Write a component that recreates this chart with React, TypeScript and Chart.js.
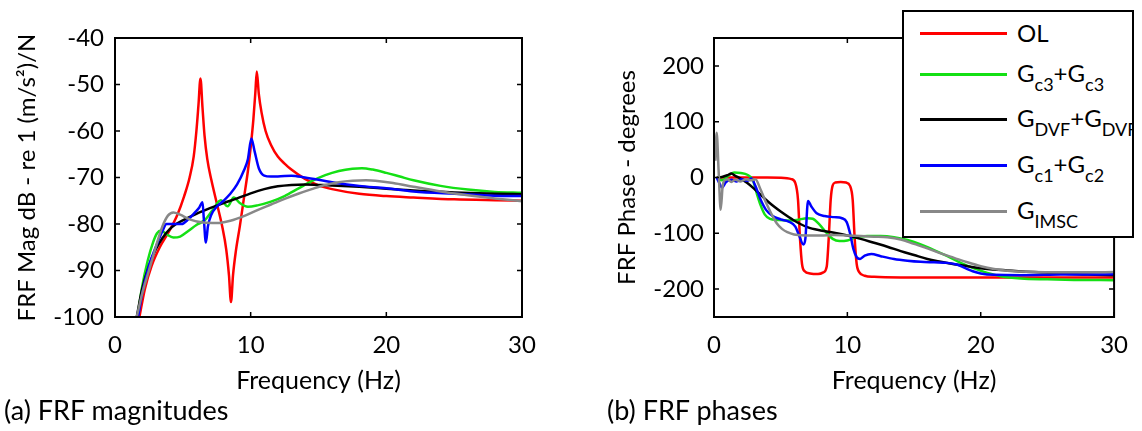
import React, { useEffect, useRef } from 'react';
import { Chart, registerables } from 'chart.js';

Chart.register(...registerables);

// ---------- DATA ----------
const xTicks = [0, 10, 20, 30];
const magTicks = [-100, -90, -80, -70, -60, -50, -40];
const phaseTicks = [-200, -100, 0, 100, 200];

const seriesNames = ['OL', 'Gc3+Gc3', 'GDVF+GDVF', 'Gc1+Gc2', 'GIMSC'];
const seriesLabelParts: [string, string][][] = [
  [['OL', '']],
  [['G', 'c3'], ['+G', 'c3']],
  [['G', 'DVF'], ['+G', 'DVF']],
  [['G', 'c1'], ['+G', 'c2']],
  [['G', 'IMSC']],
];

// (a) magnitudes, dB
const magOLFreq = [1.8, 2.2, 2.7, 3.3, 4.0, 4.6, 5.1, 5.5, 5.8, 6.0, 6.15, 6.3, 6.45, 6.6, 6.8, 7.1, 7.5, 7.9, 8.2, 8.4, 8.55, 8.7, 8.9, 9.2, 9.5, 9.8, 10.0, 10.2, 10.35, 10.45, 10.6, 10.8, 11.1, 11.5, 12, 12.5, 13, 14, 15, 16, 18, 20, 22, 25, 28, 30];
const magOL = [-100, -94, -89, -85, -81.5, -78, -74, -70, -65.5, -60, -54.5, -48.7, -55, -61, -66, -70.5, -75.5, -80.5, -85.5, -91, -96.8, -91, -86, -80.5, -74.5, -68.5, -63.5, -57.5, -51.5, -47.2, -52, -56, -60, -63, -65.5, -67, -68.3, -70.3, -71.7, -72.5, -73.5, -74, -74.3, -74.7, -74.9, -75];

const magGc3Freq = [1.65, 2.0, 2.4, 2.8, 3.1, 3.4, 3.8, 4.3, 4.8, 5.4, 6.0, 6.6, 7.2, 7.8, 8.3, 8.75, 9.2, 9.8, 10.5, 11.5, 12.5, 13.5, 14.5, 15.5, 16.5, 17.5, 18.2, 19, 20, 21, 22, 24, 26, 28, 30];
const magGc3 = [-100, -93.5, -88, -84, -82, -81.4, -82.2, -82.9, -82.7, -81.5, -80.2, -79.2, -77, -74.9, -76.2, -74.3, -75.5, -76.3, -76, -75.2, -74, -72.4, -70.8, -69.5, -68.6, -68.1, -68, -68.3, -69, -69.8, -70.6, -71.8, -72.6, -73.1, -73.3];

const magDVFFreq = [1.6, 2.0, 2.5, 3.0, 3.5, 4.0, 4.5, 5.0, 6.0, 7.0, 8.0, 9.0, 10.0, 11.0, 12.0, 13.0, 14.0, 15, 16, 18, 20, 22, 25, 28, 30];
const magDVF = [-100, -94, -89, -85.5, -83, -81.2, -80, -79.2, -77.8, -76.6, -75.5, -74.5, -73.4, -72.5, -71.9, -71.6, -71.5, -71.6, -71.7, -72, -72.4, -72.8, -73.2, -73.5, -73.6];

const magGc12Freq = [1.7, 2.0, 2.5, 3.0, 3.5, 3.8, 4.3, 4.9, 5.4, 5.9, 6.2, 6.45, 6.55, 6.7, 6.85, 7.1, 7.5, 8.0, 8.5, 9.0, 9.5, 9.8, 10.05, 10.3, 10.6, 11.0, 11.5, 12, 13, 14, 16, 18, 20, 22, 25, 28, 30];
const magGc12 = [-100, -95, -89, -85, -81.5, -80, -80, -80, -79, -77.5, -76.5, -75.3, -79, -84, -80.5, -78, -76.3, -75, -73.5, -71.5, -68.5, -66, -61.6, -64.5, -68, -69.6, -69.8, -69.8, -69.6, -70, -71, -71.8, -72.3, -73, -73.5, -73.9, -74];

const magIMSCFreq = [1.6, 2.0, 2.5, 3.0, 3.5, 3.9, 4.3, 4.8, 5.5, 6.5, 7.5, 8.5, 9.5, 10.5, 11.5, 12.5, 13.5, 14.5, 15.5, 16.5, 17.5, 18.5, 19.5, 20.5, 22, 24, 26, 28, 30];
const magIMSC = [-100, -95, -90, -85, -80.5, -78.2, -77.5, -78, -79, -79.7, -79.8, -79.3, -78.3, -77, -75.8, -74.6, -73.5, -72.5, -71.6, -71, -70.7, -70.6, -70.8, -71.2, -72, -73, -73.8, -74.5, -75.1];

// (b) phases, degrees
const phOLFreq = [0.3, 1, 2, 3, 4, 5, 5.8, 6.1, 6.3, 6.45, 6.6, 6.8, 7.2, 7.8, 8.2, 8.45, 8.6, 8.75, 8.9, 9.1, 9.5, 9.9, 10.2, 10.4, 10.55, 10.7, 10.9, 11.3, 12, 14, 17, 20, 25, 30];
const phOL = [0, 0, 0, 0, 0, -0.5, -3, -10, -40, -110, -155, -168, -172, -173, -170, -160, -110, -40, -14, -9, -8, -9, -15, -40, -110, -155, -170, -176, -178, -179, -179, -179, -179, -179];

const phGc3Freq = [0.2, 0.6, 1.0, 1.5, 2.0, 2.5, 2.9, 3.2, 3.5, 3.8, 4.2, 4.8, 5.5, 6.2, 7.0, 7.4, 7.9, 8.4, 8.9, 9.4, 10.0, 10.5, 11.5, 12.5, 13.5, 14.5, 15.5, 16.5, 17.5, 18.5, 19.5, 20.5, 21.5, 23, 25, 27, 30];
const phGc3 = [0, -5, 2, 9, 8, 5, -4, -28, -50, -66, -74, -76, -77, -76, -73, -74, -84, -98, -110, -114, -113, -108, -105, -105, -107, -112, -120, -130, -141, -153, -163, -171, -177, -181, -182.5, -183.5, -184];

const phDVFFreq = [0.2, 0.6, 1.0, 1.3, 1.6, 2.0, 2.5, 3.0, 3.5, 4.0, 4.5, 5.0, 6.0, 7.0, 8.0, 9.0, 10.0, 11.0, 12.0, 13.0, 14.0, 15.0, 16.0, 17.0, 18.0, 19.0, 20.0, 22.0, 24.0, 26.0, 28.0, 30.0];
const phDVF = [0, 1, 4, 7, 3, -2, -10, -20, -31, -42, -52, -61, -77, -89, -95, -99, -104, -110, -117, -124, -132, -139, -146, -151, -155.5, -159, -162.5, -166.5, -169.5, -172, -174, -175];

const phGc12Freq = [0.2, 0.4, 0.6, 0.9, 1.3, 1.7, 2.1, 2.5, 2.8, 3.1, 3.5, 3.9, 4.4, 5.0, 5.6, 6.1, 6.4, 6.7, 6.85, 7.05, 7.3, 7.7, 8.3, 9.0, 9.6, 9.95, 10.2, 10.45, 10.7, 10.95, 11.3, 11.8, 12.5, 13.5, 14.5, 15.5, 16.5, 17.5, 18.2, 18.8, 19.4, 20, 21, 23, 26, 30];
const phGc12 = [0, -10, -18, -8, -4, -7, -3, -6, -2, -15, -40, -58, -69, -75, -79, -88, -105, -120, -110, -42, -52, -64, -69, -71, -73, -80, -100, -128, -143, -146, -140, -137, -141, -146, -149, -151, -152, -153, -156, -162, -168, -172, -174.5, -175, -174, -173.5];

const phIMSCFreq = [0.1, 0.2, 0.35, 0.5, 0.65, 0.8, 1.0, 1.3, 1.6, 2.0, 2.4, 2.8, 3.1, 3.5, 3.9, 4.3, 4.7, 5.1, 5.5, 6.0, 7.0, 8.0, 9.0, 10.0, 11.0, 12.0, 13.0, 14.0, 15.0, 16.0, 17.0, 18.0, 19.0, 20.0, 21.0, 22.0, 24.0, 26.0, 28.0, 30.0];
const phIMSC = [30, 80, 10, -58, -15, -5, -3, -8, -4, -7, -3, -5, -3, -22, -45, -65, -82, -92, -98, -102, -104, -104, -103, -104, -105, -106, -107, -111, -119, -127, -136, -144, -152, -159, -164, -167, -169.5, -170, -170, -169.5];

const magSeries = [[magOLFreq, magOL], [magGc3Freq, magGc3], [magDVFFreq, magDVF], [magGc12Freq, magGc12], [magIMSCFreq, magIMSC]];
const phaseSeries = [[phOLFreq, phOL], [phGc3Freq, phGc3], [phDVFFreq, phDVF], [phGc12Freq, phGc12], [phIMSCFreq, phIMSC]];

// ---------- STYLE ----------
const COLORS = ['#ff0000', '#14e014', '#000000', '#0000ff', '#888888'];
const FONT = 'Lato, "Open Sans", sans-serif';

const framePlugin = {
  id: 'matlabFrame',
  afterDatasetsDraw(chart: any) {
    const { ctx, chartArea: a, scales } = chart;
    ctx.save();
    ctx.strokeStyle = '#000';
    ctx.lineWidth = 2;
    ctx.strokeRect(a.left, a.top, a.right - a.left, a.bottom - a.top);
    ctx.lineWidth = 1.5;
    const L = 5;
    ctx.beginPath();
    scales.x.ticks.forEach((t: any) => {
      const p = scales.x.getPixelForValue(t.value);
      ctx.moveTo(p, a.bottom); ctx.lineTo(p, a.bottom - L);
      ctx.moveTo(p, a.top); ctx.lineTo(p, a.top + L);
    });
    scales.y.ticks.forEach((t: any) => {
      const p = scales.y.getPixelForValue(t.value);
      ctx.moveTo(a.left, p); ctx.lineTo(a.left + L, p);
      ctx.moveTo(a.right, p); ctx.lineTo(a.right - L, p);
    });
    ctx.stroke();
    ctx.restore();
  },
};

function makeConfig(p: {
  series: number[][][]; yMin: number; yMax: number; yTicks: number[]; yTitle: string;
  yWidth: number; rightPad: number; yTitlePad: number; yTickPad: number;
}) {
  const datasets = p.series.map(([f, v], i) => ({
    label: seriesNames[i],
    data: f.map((x, j) => ({ x, y: v[j] })),
    borderColor: COLORS[i],
    backgroundColor: COLORS[i],
    borderWidth: 2.5,
    pointRadius: 0,
    fill: false,
    cubicInterpolationMode: 'monotone' as const,
    order: 5 - i,
  }));
  return {
    type: 'line' as const,
    data: { datasets },
    plugins: [framePlugin],
    options: {
      responsive: false,
      animation: false as const,
      layout: { padding: { top: 38, right: p.rightPad, bottom: 0, left: 0 } },
      plugins: { legend: { display: false }, tooltip: { enabled: false } },
      scales: {
        x: {
          type: 'linear' as const,
          min: 0, max: 30,
          grid: { display: false, drawTicks: false },
          border: { display: false },
          afterBuildTicks: (s: any) => { s.ticks = xTicks.map((value) => ({ value })); },
          afterFit: (s: any) => { s.height = 114; },
          ticks: { padding: 14, color: '#000', font: { family: FONT, size: 24 }, maxRotation: 0, autoSkip: false },
          title: { display: true, text: 'Frequency (Hz)', color: '#000', font: { family: FONT, size: 25 }, padding: { top: 0, bottom: 35 } },
        },
        y: {
          type: 'linear' as const,
          min: p.yMin, max: p.yMax,
          grid: { display: false, drawTicks: false },
          border: { display: false },
          afterBuildTicks: (s: any) => { s.ticks = p.yTicks.map((value) => ({ value })); },
          afterFit: (s: any) => { s.width = p.yWidth; },
          ticks: { padding: p.yTickPad, color: '#000', font: { family: FONT, size: 24 }, autoSkip: false },
          title: { display: true, text: p.yTitle, color: '#000', font: { family: FONT, size: 24 }, padding: { top: p.yTitlePad, bottom: 0 } },
        },
      },
    },
  };
}

function ChartCanvas({ config, left }: { config: any; left: number }) {
  const ref = useRef<HTMLCanvasElement | null>(null);
  useEffect(() => {
    if (!ref.current) return;
    const chart = new Chart(ref.current, config);
    return () => chart.destroy();
  }, []);
  return <canvas ref={ref} width={571} height={431} style={{ position: 'absolute', left, top: 0, width: 571, height: 431 }} />;
}

const legendRowY = [21, 62, 107, 153, 199];

export default function App() {
  const magConfig = makeConfig({
    series: magSeries, yMin: -100, yMax: -40, yTicks: magTicks,
    yTitle: 'FRF Mag dB - re 1 (m/s²)/N', yWidth: 115, rightPad: 49, yTitlePad: 13, yTickPad: 11,
  });
  const phaseConfig = makeConfig({
    series: phaseSeries, yMin: -250, yMax: 250, yTicks: phaseTicks,
    yTitle: 'FRF Phase - degrees', yWidth: 143, rightPad: 19, yTitlePad: 42, yTickPad: 10,
  });
  return (
    <div style={{ position: 'fixed', left: 0, top: 0, width: 1142, height: 431, background: '#fff', overflow: 'hidden', fontFamily: FONT, color: '#000' }}>
      <ChartCanvas config={magConfig} left={0} />
      <ChartCanvas config={phaseConfig} left={571} />
      <div style={{ position: 'absolute', left: 4, top: 394, fontSize: 27, lineHeight: '32px', whiteSpace: 'nowrap' }}>(a) FRF magnitudes</div>
      <div style={{ position: 'absolute', left: 607, top: 394, fontSize: 27, lineHeight: '32px', whiteSpace: 'nowrap' }}>(b) FRF phases</div>
      <div style={{ position: 'absolute', left: 902, top: 10, width: 232, height: 228, boxSizing: 'border-box', border: '2px solid #000', background: '#fff', overflow: 'hidden' }}>
        {seriesLabelParts.map((parts, i) => (
          <div key={i} style={{ position: 'absolute', left: 16, top: legendRowY[i] - 12, height: 24, display: 'flex', alignItems: 'center', whiteSpace: 'nowrap' }}>
            <div style={{ width: 87, height: 3, background: COLORS[i], marginRight: 10, flex: 'none' }} />
            <span style={{ fontSize: 24, lineHeight: '24px' }}>
              {parts.map(([b, s], k) => (
                <React.Fragment key={k}>
                  {b}
                  {s ? <span style={{ fontSize: 18, position: 'relative', top: 9 }}>{s}</span> : null}
                </React.Fragment>
              ))}
            </span>
          </div>
        ))}
      </div>
    </div>
  );
}
